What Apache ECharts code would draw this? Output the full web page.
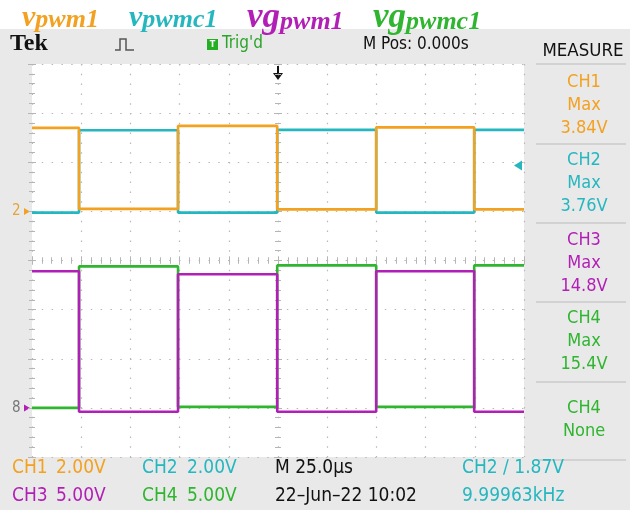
<!DOCTYPE html>
<html><head><meta charset="utf-8">
<script src="https://cdn.jsdelivr.net/npm/echarts@6/dist/echarts.min.js"></script>
<style>html,body{margin:0;padding:0;background:#e9e9e9}#c{width:630px;height:510px}</style>
</head><body><div id="c"></div><script>
// ---- data ----
const edgeTimesUs = [0, 23.9, 74.2, 124.6, 174.9, 224.7, 250];   // µs, step points
const ch1Volts = [3.40, 0.10, 3.48, 0.08, 3.42, 0.08, 0.08];
const ch2Volts = [-0.05, 3.30, -0.05, 3.32, -0.05, 3.32, 3.32];
const ch3Volts = [13.9, -0.4, 13.6, -0.4, 13.9, -0.4, -0.4];
const ch4Volts = [0.0, 14.4, 0.1, 14.5, 0.1, 14.5, 14.5];
const channelNames = ['CH1', 'CH2', 'CH3', 'CH4'];
const voltsPerDiv = [2, 2, 5, 5];
const groundDiv = [1, 1, -3, -3];
const channelColors = ['#f3a120', '#25b7c0', '#b21fb6', '#2fb52f'];
const measureRows = [['CH1', 'Max', '3.84V'], ['CH2', 'Max', '3.76V'], ['CH3', 'Max', '14.8V'], ['CH4', 'Max', '15.4V'], ['CH4', 'None']];
const measureColors = ['#f3a120', '#25b7c0', '#b21fb6', '#2fb52f', '#2fb52f'];
const triggerLevelV = 1.87;
const timePerDivUs = 25;

const chart = echarts.init(document.getElementById('c'));
const font = '"DejaVu Sans Condensed", "Liberation Sans Narrow", sans-serif';
const serif = '"Liberation Serif", "DejaVu Serif", serif';
const allVolts = [ch1Volts, ch2Volts, ch3Volts, ch4Volts];
const drawOrder = [1, 0, 3, 2];

const series = drawOrder.map(i => ({
  type: 'line', step: 'end', symbol: 'none', animation: false,
  data: edgeTimesUs.map((t, k) => [t, groundDiv[i] + allVolts[i][k] / voltsPerDiv[i]]),
  lineStyle: { color: channelColors[i], width: 2.6 }, z: 5
}));

const tickStyle = { color: '#b5b5b5', width: 1 };
const gridLine = { color: '#b8b8b8', width: 1.2, type: [1.5, 8.3] };
function xAx(pos, offset, inside, split) {
  return { type: 'value', min: 0, max: 250, interval: timePerDivUs, position: pos, offset: offset,
    axisLine: { show: false }, axisLabel: { show: false },
    axisTick: { show: true, inside: inside, length: 4, lineStyle: tickStyle },
    minorTick: { show: true, splitNumber: 5, length: 3, lineStyle: tickStyle },
    splitLine: { show: split, lineStyle: gridLine } };
}
function yAx(pos, offset, inside, split) {
  return { type: 'value', min: -4, max: 4, interval: 1, position: pos, offset: offset,
    axisLine: { show: false }, axisLabel: { show: false },
    axisTick: { show: true, inside: inside, length: 4, lineStyle: tickStyle },
    minorTick: { show: true, splitNumber: 5, length: 3, lineStyle: tickStyle },
    splitLine: { show: split, lineStyle: gridLine } };
}

const G = { left: 32, top: 64, width: 492, height: 393 };

const graphics = [];
graphics.push({ type: 'rect', shape: { x: 0, y: 0, width: 630, height: 29 }, style: { fill: '#ffffff' }, z: -10 });
graphics.push({ type: 'rect', shape: { x: G.left, y: G.top, width: G.width, height: G.height }, style: { fill: '#ffffff' }, z: -5 });
// titles
const titleParts = [
  { x: 22, v: 'v', sub: 'pwm1', c: channelColors[0], big: false },
  { x: 129, v: 'v', sub: 'pwmc1', c: channelColors[1], big: false },
  { x: 247, v: 'vg', sub: 'pwm1', c: channelColors[2], big: true },
  { x: 373, v: 'vg', sub: 'pwmc1', c: channelColors[3], big: true }
];
titleParts.forEach(p => {
  graphics.push({ type: 'text', x: p.x, y: 18, style: {
    text: '{a|' + p.v + '}{b|' + p.sub + '}', fill: p.c, verticalAlign: 'middle',
    rich: { a: { fontFamily: serif, fontStyle: 'italic', fontWeight: 'bold', fontSize: p.big ? 35 : 30, fill: p.c, verticalAlign: 'bottom' },
            b: { fontFamily: serif, fontStyle: 'italic', fontWeight: 'bold', fontSize: 26, fill: p.c, verticalAlign: 'bottom' } } } });
});
// header row
graphics.push({ type: 'text', x: 10, y: 44, style: { text: 'Tek', fontFamily: serif, fontWeight: 'bold', fontSize: 24, fill: '#111', verticalAlign: 'middle' } });
graphics.push({ type: 'polyline', shape: { points: [[115, 50], [120, 50], [120, 39], [126, 39], [126, 50], [134, 50]] }, style: { stroke: '#555', lineWidth: 1.5, fill: null } });
graphics.push({ type: 'rect', shape: { x: 207, y: 39, width: 11, height: 11 }, style: { fill: '#22b022' } });
graphics.push({ type: 'text', x: 212.5, y: 44.5, style: { text: 'T', fontFamily: font, fontSize: 9, fontWeight: 'bold', fill: '#fff', align: 'center', verticalAlign: 'middle' } });
graphics.push({ type: 'text', x: 222, y: 44, style: { text: "Trig'd", fontFamily: font, fontSize: 17, fill: '#2aa52a', verticalAlign: 'middle' } });
graphics.push({ type: 'text', x: 363, y: 45, style: { text: 'M Pos: 0.000s', fontFamily: font, fontSize: 17, fill: '#111', verticalAlign: 'middle' } });
graphics.push({ type: 'text', x: 583, y: 51, style: { text: 'MEASURE', fontFamily: font, fontSize: 18.5, fill: '#111', align: 'center', verticalAlign: 'middle' } });
// measure panel
const sepY = [64, 144, 223, 302, 382, 460];
sepY.forEach(y => graphics.push({ type: 'line', shape: { x1: 536, y1: y, x2: 626, y2: y }, style: { stroke: '#d2d2d2', lineWidth: 2 } }));
const blockTop = [82, 160, 240, 318, 408];
measureRows.forEach((row, i) => {
  row.forEach((t, j) => graphics.push({ type: 'text', x: 584, y: blockTop[i] + j * 23, style: { text: t, fontFamily: font, fontSize: 18, fill: measureColors[i], align: 'center', verticalAlign: 'middle' } }));
});
// bottom rows
const bottom = [
  [12, 468, 'CH1', channelColors[0]], [56, 468, '2.00V', channelColors[0]],
  [142, 468, 'CH2', channelColors[1]], [187, 468, '2.00V', channelColors[1]],
  [275, 468, 'M 25.0\u00b5s', '#111'], [462, 468, 'CH2 \u2215 1.87V', channelColors[1]],
  [12, 496, 'CH3', channelColors[2]], [56, 496, '5.00V', channelColors[2]],
  [142, 496, 'CH4', channelColors[3]], [187, 496, '5.00V', channelColors[3]],
  [275, 496, '22\u2013Jun\u201322 10:02', '#111'], [462, 496, '9.99963kHz', channelColors[1]]
];
bottom.forEach(b => graphics.push({ type: 'text', x: b[0], y: b[1], style: { text: b[2], fontFamily: font, fontSize: 19, fill: b[3], verticalAlign: 'middle' } }));

chart.setOption({
  animation: false,
  backgroundColor: '#e9e9e9',
  grid: { left: G.left, top: G.top, width: G.width, height: G.height, containLabel: false },
  xAxis: [xAx('bottom', 0, true, true), xAx('top', 0, true, false), xAx('bottom', -G.height / 2, true, false), xAx('bottom', -G.height / 2, false, false)],
  yAxis: [yAx('left', 0, true, true), yAx('right', 0, true, false), yAx('left', -G.width / 2, true, false), yAx('left', -G.width / 2, false, false)],
  series: series,
  graphic: graphics
});

// markers computed through the axes
const extra = [];
const g2 = chart.convertToPixel({ xAxisIndex: 0, yAxisIndex: 0 }, [0, groundDiv[1]]);
const g4 = chart.convertToPixel({ xAxisIndex: 0, yAxisIndex: 0 }, [0, groundDiv[3]]);
extra.push({ type: 'text', x: 12, y: g2[1], style: { text: '2', fontFamily: font, fontSize: 15, fill: '#e7a33a', verticalAlign: 'middle' } });
extra.push({ type: 'polygon', shape: { points: [[24, g2[1] - 3.5], [30, g2[1]], [24, g2[1] + 3.5]] }, style: { fill: channelColors[0] } });
extra.push({ type: 'text', x: 12, y: g4[1], style: { text: '8', fontFamily: font, fontSize: 15, fill: '#777', verticalAlign: 'middle' } });
extra.push({ type: 'polygon', shape: { points: [[24, g4[1] - 3.5], [30, g4[1]], [24, g4[1] + 3.5]] }, style: { fill: channelColors[2] } });
const trg = chart.convertToPixel({ xAxisIndex: 0, yAxisIndex: 0 }, [125, groundDiv[1] + triggerLevelV / voltsPerDiv[1]]);
extra.push({ type: 'polygon', shape: { points: [[522, trg[1] - 5], [514, trg[1]], [522, trg[1] + 5]] }, style: { fill: channelColors[1] } });
extra.push({ type: 'line', shape: { x1: trg[0], y1: 66, x2: trg[0], y2: 76 }, style: { stroke: '#111', lineWidth: 2 } });
extra.push({ type: 'polygon', shape: { points: [[trg[0] - 5, 73], [trg[0] + 5, 73], [trg[0], 80]] }, style: { fill: '#111' } });
chart.setOption({ graphic: graphics.concat(extra) });
</script></body></html>
